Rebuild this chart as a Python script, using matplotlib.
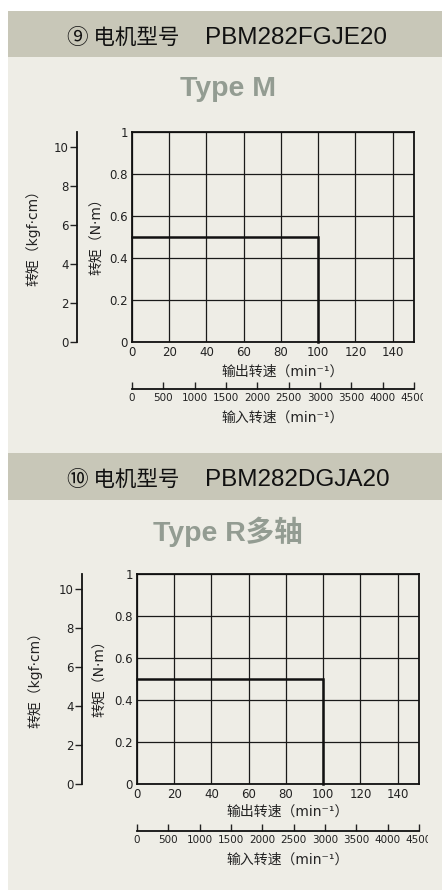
import matplotlib
matplotlib.use("Agg")
import matplotlib.pyplot as plt
from matplotlib import font_manager
from matplotlib.transforms import Bbox

# condensed face for numbers if one is installed
names = {f.name for f in font_manager.fontManager.ttflist}
NUM = 'Liberation Sans Narrow' if 'Liberation Sans Narrow' in names else 'DejaVu Sans'
plt.rcParams['font.family'] = [NUM, 'Noto Sans CJK SC', 'DejaVu Sans']
CJK = [NUM, 'Noto Sans CJK SC', 'DejaVu Sans']

W, H = 442, 890

# data
circled = ["⑨ 电机型号", "⑩ 电机型号"]
models = ["PBM282FGJE20", "PBM282DGJA20"]
types = ["Type M", "Type R多轴"]
out_speed = [0, 100, 100]        # min-1
torque_nm = [0.5, 0.5, 0.0]      # N·m
out_ticks = [0, 20, 40, 60, 80, 100, 120, 140]
nm_ticks = [0, 0.2, 0.4, 0.6, 0.8, 1]
nm_labels = ["0", "0.2", "0.4", "0.6", "0.8", "1"]
kgf_ticks = [0, 2, 4, 6, 8, 10]
in_ticks = [0, 500, 1000, 1500, 2000, 2500, 3000, 3500, 4000, 4500]

BG = "#eeede6"
HEAD = "#c8c7b8"
TITLE = "#939c92"
INK = "#222222"
TS = 8.5   # tick label size
TS_IN = 7.5


def box(x0, y0, x1, y1):
    return [x0 / W, 1 - y1 / H, (x1 - x0) / W, (y1 - y0) / H]


fig = plt.figure(figsize=(W / 100, H / 100), dpi=100)
fig.patch.set_facecolor("white")

bgax = fig.add_axes([0, 0, 1, 1])
bgax.set_xlim(0, W)
bgax.set_ylim(H, 0)
bgax.axis("off")
bgax.add_patch(plt.Rectangle((8, 11), W - 8, H - 11, color=BG, lw=0))

# per-panel layout in pixels
layout = [
    dict(head=(11, 57), title_y=85.5, ax=(132, 132, 414, 342), kgf_x=77,
         nm_lab_x=97, kgf_lab_x=33, xlab_y=372, in_y=389, in_lab_y=418, clip_x=423),
    dict(head=(453, 500), title_y=528.5, ax=(137, 574, 419, 784), kgf_x=82,
         nm_lab_x=100, kgf_lab_x=35, xlab_y=812, in_y=831, in_lab_y=860, clip_x=428),
]

for i, L in enumerate(layout):
    h0, h1 = L["head"]
    hc = (h0 + h1) / 2 + 1
    bgax.add_patch(plt.Rectangle((8, h0), W - 8, h1 - h0, color=HEAD, lw=0))
    bgax.text(179, hc, circled[i], ha="right", va="center_baseline",
              fontsize=15.5, color="#111111",
              family=['Noto Sans CJK SC', 'DejaVu Sans'])
    bgax.text(205, hc, models[i], ha="left", va="center_baseline",
              fontsize=17.5, color="#111111",
              family=['Liberation Sans', 'DejaVu Sans'])
    bgax.text(228, L["title_y"], types[i], ha="center", va="center_baseline",
              fontsize=20.5, fontweight="bold", color=TITLE,
              family=['Liberation Sans', 'Noto Sans CJK SC'])

    x0, y0, x1, y1 = L["ax"]
    ax = fig.add_axes(box(x0, y0, x1, y1))
    ax.set_facecolor("none")
    ax.set_xlim(0, 151.5)
    ax.set_ylim(0, 1)
    ax.set_xticks(out_ticks)
    ax.set_yticks(nm_ticks)
    ax.set_yticklabels(nm_labels)
    ax.grid(True, color="#1a1a1a", lw=0.9)
    ax.set_axisbelow(True)
    ax.tick_params(length=0, labelsize=TS, colors=INK, pad=3)
    for s in ax.spines.values():
        s.set_linewidth(1.3)
        s.set_color("#111111")
    ax.plot(out_speed, torque_nm, color="#111111", lw=1.8, solid_joinstyle="miter",
            clip_on=False)

    ym = (y0 + y1) / 2
    xm = (x0 + x1) / 2 + 10
    bgax.text(L["nm_lab_x"], ym - 4, "转矩（N·m）", rotation=90,
              ha="center", va="center", fontsize=10, color=INK, family=CJK)
    bgax.text(xm, L["xlab_y"], "输出转速（min⁻¹）",
              ha="center", va="center", fontsize=10, color=INK, family=CJK)

    # kgf·cm axis
    kx = L["kgf_x"]
    ak = fig.add_axes(box(kx, y0, kx + 1, y1))
    ak.set_facecolor("none")
    ak.set_ylim(0, 10.77)
    ak.set_xticks([])
    ak.set_yticks(kgf_ticks)
    for k in ["top", "right", "bottom"]:
        ak.spines[k].set_visible(False)
    ak.spines["left"].set_linewidth(1.3)
    ak.spines["left"].set_color("#111111")
    ak.tick_params(axis="y", length=5, width=1, labelsize=TS, colors=INK, pad=1)
    bgax.text(L["kgf_lab_x"], ym - 3, "转矩（kgf·cm）", rotation=90,
              ha="center", va="center", fontsize=10, color=INK, family=CJK)

    # input speed axis
    iy = L["in_y"]
    ai = fig.add_axes(box(x0, iy - 1, x1, iy))
    ai.set_facecolor("none")
    ai.set_xlim(0, 4500)
    ai.set_yticks([])
    ai.set_xticks(in_ticks)
    for k in ["top", "right", "left"]:
        ai.spines[k].set_visible(False)
    ai.spines["bottom"].set_linewidth(1.3)
    ai.spines["bottom"].set_color("#111111")
    ai.tick_params(axis="x", direction="in", length=5, width=1, labelsize=TS_IN,
                   colors=INK, pad=3)
    clip = Bbox.from_extents(0, 0, L["clip_x"], H)
    for lab in ai.get_xticklabels():
        lab.set_clip_on(True)
        lab.set_clip_box(clip)
    bgax.text(xm, L["in_lab_y"], "输入转速（min⁻¹）",
              ha="center", va="center", fontsize=10, color=INK, family=CJK)

fig.savefig("out.png", dpi=100, facecolor=fig.get_facecolor())
